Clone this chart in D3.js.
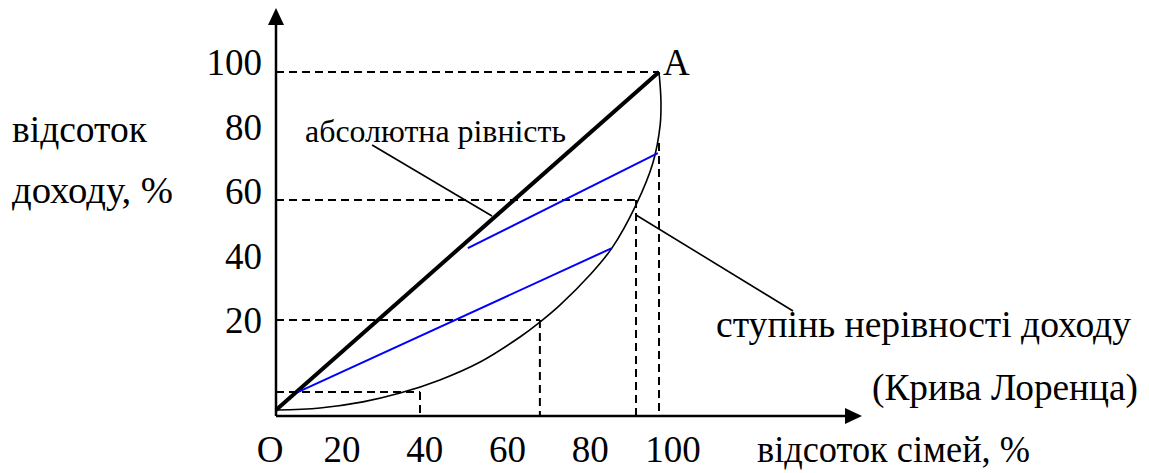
<!DOCTYPE html>
<html>
  <head>
    <meta charset="utf-8">
    <title>Крива Лоренца</title>
    <style>
      body { margin: 0; background: #fff; }
    </style>
  </head>
  <body>
    <svg width="1149" height="473"></svg>
    <script src="https://cdn.jsdelivr.net/npm/d3@7/dist/d3.min.js"></script>
    <script>
      // tick labels
      const xTicks = [20, 40, 60, 80, 100];
      const yTicks = [20, 40, 60, 80, 100];

      // Lorenz curve (share of families, share of income)
      const lorenzX = [0, 11.5, 22.7, 32.4, 42.8, 53.3, 63.7, 68.9, 74.2, 82.0, 87.7, 94.0, 98.4, 100.3, 100.5, 100];
      const lorenzY = [0, 0.6, 2.4, 5.0, 8.9, 14.2, 21.6, 26.0, 31.1, 40.0, 47.9, 60.7, 73.1, 84.3, 91.7, 100];

      // line of absolute equality
      const equality = [[0, 0], [100, 100]];

      // blue chords
      const chords = [
        [[50.1, 47.9], [99.7, 76.0]],
        [[5.7, 5.3], [87.7, 47.9]]
      ];

      // dashed guides: horizontal [y, x end], vertical [x, y start]
      const guideH = [[100, 100], [62.1, 93.7], [26.6, 68.9], [5.3, 37.6]];
      const guideV = [[37.6, 5.3], [68.9, 26.6], [94.0, 62.1], [100, 79]];

      // leader lines to the captions
      const leaders = [
        [[25.1, 78.4], [56.4, 57.4]],
        [[94.0, 57.7], [135.0, 29.3]]
      ];

      // captions: text, left x, baseline, size, width
      const captions = [
        ['відсоток', 12, 142, 37, 135],
        ['доходу, %', 12, 203, 37, 161],
        ['абсолютна рівність', 305, 142, 32, 261],
        ['ступінь нерівності доходу', 716, 337, 37, 415],
        ['(Крива Лоренца)', 872, 400, 37, 266],
        ['відсоток сімей, %', 757, 462, 37, 273]
      ];

      const font = '"Liberation Serif", "Times New Roman", Tinos, serif';

      const svg = d3.select('svg');

      const x = d3.scaleLinear().domain([0, 100]).range([276, 659]);
      const y = d3.scaleLinear().domain([0, 100]).range([410, 72]);
      // the printed labels sit on their own spacing
      const xLab = d3.scaleLinear().domain([20, 100]).range([342, 673]);
      const yLab = d3.scaleLinear().domain([20, 100]).range([333, 75]);

      const axisY = y(0) + 6;
      const xEnd = 862, yTop = 8;

      const line = d3.line().x(d => x(d[0])).y(d => y(d[1]));

      // dashed guides
      svg.selectAll('.gh')
        .data(guideH).enter()
        .append('line')
        .attr('x1', x(0)).attr('x2', d => x(d[1]))
        .attr('y1', d => y(d[0])).attr('y2', d => y(d[0]))
        .attr('stroke', '#000').attr('stroke-width', 2)
        .attr('stroke-dasharray', '8,5');

      svg.selectAll('.gv')
        .data(guideV).enter()
        .append('line')
        .attr('x1', d => x(d[0])).attr('x2', d => x(d[0]))
        .attr('y1', d => y(d[1])).attr('y2', axisY)
        .attr('stroke', '#000').attr('stroke-width', 2)
        .attr('stroke-dasharray', '8,5');

      // axes
      svg.append('line')
        .attr('x1', x(0)).attr('x2', xEnd - 14)
        .attr('y1', axisY).attr('y2', axisY)
        .attr('stroke', '#000').attr('stroke-width', 2.5);
      svg.append('line')
        .attr('x1', x(0)).attr('x2', x(0))
        .attr('y1', axisY).attr('y2', yTop + 14)
        .attr('stroke', '#000').attr('stroke-width', 2.5);
      svg.append('path')
        .attr('d', `M${xEnd},${axisY} L${xEnd - 17},${axisY - 8} L${xEnd - 17},${axisY + 8} Z`)
        .attr('fill', '#000');
      svg.append('path')
        .attr('d', `M${x(0)},${yTop} L${x(0) - 8},${yTop + 17} L${x(0) + 8},${yTop + 17} Z`)
        .attr('fill', '#000');

      // curves
      svg.append('path')
        .datum(d3.zip(lorenzX, lorenzY))
        .attr('d', line.curve(d3.curveCatmullRom.alpha(0.5)))
        .attr('fill', 'none').attr('stroke', '#000').attr('stroke-width', 1.6);
      line.curve(d3.curveLinear);

      svg.append('path')
        .datum(equality)
        .attr('d', line)
        .attr('fill', 'none').attr('stroke', '#000').attr('stroke-width', 4);

      svg.selectAll('.chord')
        .data(chords).enter()
        .append('path')
        .attr('d', line)
        .attr('fill', 'none').attr('stroke', '#0000ff').attr('stroke-width', 2);

      svg.selectAll('.leader')
        .data(leaders).enter()
        .append('path')
        .attr('d', line)
        .attr('fill', 'none').attr('stroke', '#000').attr('stroke-width', 1.6);

      // tick labels
      svg.selectAll('.xl')
        .data(xTicks).enter()
        .append('text')
        .attr('x', d => xLab(d)).attr('y', 462)
        .attr('text-anchor', 'middle').attr('font-size', 37)
        .style('font-family', font)
        .text(d => d);
      svg.append('text')
        .attr('x', 270).attr('y', 462)
        .attr('text-anchor', 'middle').attr('font-size', 37)
        .style('font-family', font)
        .text('O');

      svg.selectAll('.yl')
        .data(yTicks).enter()
        .append('text')
        .attr('x', 262).attr('y', d => yLab(d))
        .attr('text-anchor', 'end').attr('font-size', 37)
        .style('font-family', font)
        .text(d => d);

      svg.append('text')
        .attr('x', 663).attr('y', 75).attr('font-size', 37)
        .style('font-family', font)
        .text('A');

      // captions
      svg.selectAll('.cap')
        .data(captions).enter()
        .append('text')
        .attr('x', d => d[1]).attr('y', d => d[2])
        .attr('font-size', d => d[3])
        .attr('textLength', d => d[4])
        .attr('lengthAdjust', 'spacingAndGlyphs')
        .style('font-family', font)
        .text(d => d[0]);
    </script>
  </body>
</html>
